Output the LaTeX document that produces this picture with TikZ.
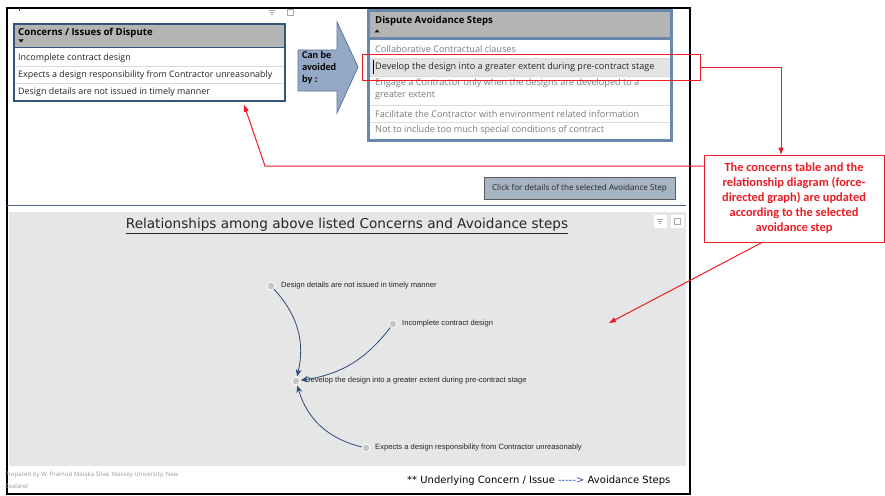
\documentclass[tikz,border=0pt]{standalone}
\usepackage{fontspec}
\setmainfont{Open Sans}
\newfontfamily\graphfont{Liberation Sans}
\newfontfamily\calfont{Carlito}
\newfontfamily\handfont{DejaVu Sans}
\usetikzlibrary{arrows.meta}

\definecolor{tblborder}{HTML}{34547E}
\definecolor{tblborderlight}{HTML}{6A88AE}
\definecolor{headfill}{HTML}{B4B4B4}
\definecolor{rowline}{HTML}{DADADA}
\definecolor{rowdark}{HTML}{252525}
\definecolor{rowgrey}{HTML}{7A7A7A}
\definecolor{selfill}{HTML}{E3E3E3}
\definecolor{arrowfill}{HTML}{93A9C6}
\definecolor{arrowedge}{HTML}{5C7699}
\definecolor{notered}{HTML}{EC1C24}
\definecolor{btnfill}{HTML}{A7B4C3}
\definecolor{btnedge}{HTML}{5A5A5A}
\definecolor{sepblue}{HTML}{4B6488}
\definecolor{panelgrey}{HTML}{E6E6E6}
\definecolor{edgeblue}{HTML}{2A4A78}
\definecolor{dotgrey}{HTML}{C6C6C6}
\definecolor{icongrey}{HTML}{A8A8A8}
\definecolor{footgrey}{HTML}{9A9A9A}
\definecolor{legendblue}{HTML}{2B4FA8}

\begin{document}
\begin{tikzpicture}[x=1pt,y=-1pt,
  rowtxt/.style={anchor=west, inner sep=0pt, font=\fontsize{8.9}{11}\selectfont, text=rowdark},
  steptxt/.style={anchor=west, inner sep=0pt, font=\fontsize{9.1}{11}\selectfont, text=rowdark},
  greytxt/.style={steptxt, text=rowgrey},
  headtxt/.style={anchor=west, inner sep=0pt, font=\bfseries\fontsize{9.6}{11}\selectfont, text=black},
  redline/.style={draw=notered, line width=1pt},
  redarrow/.style={redline, -{Triangle[length=7pt,width=5pt]}},
  gnode/.style={circle, fill=dotgrey, draw=white, line width=0.8pt, minimum size=8pt, inner sep=0pt},
  glabel/.style={anchor=west, inner sep=0pt, font=\graphfont\fontsize{7.6}{9}\selectfont, text=rowdark},
  gedge/.style={draw=edgeblue, line width=0.8pt, -{Stealth[length=7pt,width=6pt]}, shorten >=0.5pt},
  iconbox/.style={fill=white, minimum width=13pt, minimum height=13pt, inner sep=0pt}
]
\useasboundingbox (0,0) rectangle (885,495);
\fill[white] (0,0) rectangle (885,495);

% report frame
\draw[line width=1.6pt] (7,8) rectangle (690,494);

% visual header icons (filter / focus mode)
\draw[icongrey, line width=0.6pt] (269,10) -- (275,10) (270,12) -- (274,12) (271,14) -- (273,14);
\draw[icongrey, line width=0.5pt] (287,9) rectangle (293,15);
\draw[tblborder, line width=1pt] (19,8.5) -- (19,11);

% ---- concerns table ----
\fill[headfill] (14,24) rectangle (285,47);
\draw[rowline] (14,66.5) -- (285,66.5) (14,83.5) -- (285,83.5);
\node[draw=tblborder, line width=1.4pt, minimum width=271pt, minimum height=77pt, inner sep=0pt] (ctab) at (149.5,62.5) {};
\draw[tblborder, line width=1.2pt] (14,47.5) -- (285,47.5);
\node[headtxt] (chead) at (18,33) {Concerns / Issues of Dispute};
\fill (18.5,39.5) -- (23.5,39.5) -- (21,42.5) -- cycle;
\node[rowtxt] (c1) at (18,58) {Incomplete contract design};
\node[rowtxt] (c2) at (18,75) {Expects a design responsibility from Contractor unreasonably};
\node[rowtxt] (c3) at (18,92) {Design details are not issued in timely manner};

% ---- block arrow ----
\draw[fill=arrowfill, draw=arrowedge, line width=0.8pt]
  (298,50) -- (337,50) -- (337,22) -- (358,67) -- (337,113) -- (337,91) -- (298,91) -- cycle;
\node[anchor=north west, inner sep=0pt, align=left, font=\calfont\bfseries\fontsize{10.3}{12}\selectfont] (avoided) at (302,51) {Can be\\avoided\\by :};

% ---- avoidance steps table ----
\fill[headfill] (369,11) rectangle (671,37);
\fill[selfill] (370,58) rectangle (670,76);
\draw[rowline] (370,58) -- (670,58) (370,76) -- (670,76) (370,105) -- (670,105) (370,122) -- (670,122);
\node[draw=tblborderlight, line width=2.6pt, minimum width=303pt, minimum height=130pt, inner sep=0pt] (stab) at (520,75.5) {};
\draw[tblborderlight, line width=2.4pt] (369,38.5) -- (671,38.5);
\node[headtxt] (shead) at (375,21.5) {Dispute Avoidance Steps};
\fill (374.5,32.5) -- (379.5,32.5) -- (377,29.5) -- cycle;
\draw[black, line width=1pt] (373,60) -- (373,74);
\node[greytxt] (s1) at (375,49) {Collaborative Contractual clauses};
\node[steptxt] (s2) at (375,67) {Develop the design into a greater extent during pre-contract stage};
\node[greytxt, anchor=north west, align=left, font=\fontsize{9.1}{12.5}\selectfont] (s3) at (375,78) {Engage a Contractor only when the designs are developed to a\\greater extent};
\node[greytxt] (s4) at (375,114) {Facilitate the Contractor with environment related information};
\node[greytxt] (s5) at (375,130) {Not to include too much special conditions of contract};

% ---- details button ----
\node[fill=btnfill, draw=btnedge, line width=0.8pt, minimum width=191pt, minimum height=22pt, inner sep=0pt,
      font=\fontsize{8.1}{9}\selectfont, text=rowdark] (btn) at (579.5,188) {Click for details of the selected Avoidance Step};

% ---- separator and graph panel ----
\draw[sepblue, line width=1.8pt] (7,205.5) -- (686,205.5);
\fill[panelgrey] (9,212) rectangle (686,466);
\node[iconbox] (ib1) at (660,221) {};
\node[iconbox] (ib2) at (677,221) {};
\draw[icongrey, line width=0.5pt] (657,219) -- (663,219) (658,221) -- (662,221) (659,223) -- (661,223);
\draw[icongrey, line width=0.5pt] (674,218) rectangle (680,224);
\node[inner sep=0pt, font=\handfont\fontsize{13.6}{15}\selectfont, text=rowdark] (gtitle) at (347,226)
  {\underline{Relationships among above listed Concerns and Avoidance steps}};

% force-directed graph
\node[gnode] (ga) at (271,286) {};
\node[gnode] (gb) at (393,324) {};
\node[gnode] (gc) at (296,381) {};
\node[gnode] (gd) at (366,448) {};
\node[glabel] (la) at (281,286) {Design details are not issued in timely manner};
\node[glabel] (lb) at (402,324) {Incomplete contract design};
\node[glabel] (lc) at (305,381) {Develop the design into a greater extent during pre-contract stage};
\node[glabel] (ld) at (375,448) {Expects a design responsibility from Contractor unreasonably};
\draw[gedge] (ga) to[bend left=28] (gc);
\draw[gedge] (gb) to[bend left=22] (gc);
\draw[gedge] (gd) to[bend left=30] (gc);

% ---- footer ----
\node[anchor=north west, inner sep=0pt, align=left, font=\fontsize{6.1}{12}\selectfont, text=footgrey] (credit) at (5,472)
  {Prepared by W. Pramod Malaka Silva, Massey University, New\\Zealand};
\node[anchor=west, inner sep=0pt, font=\handfont\fontsize{10}{12}\selectfont] (legend) at (407,481)
  {** Underlying Concern / Issue \textcolor{legendblue}{-{}-{}-{}-{}->} Avoidance Steps};

% ---- annotation ----
\node[draw=notered, line width=1pt, minimum width=338pt, minimum height=25pt, inner sep=0pt] (sel) at (531,67.5) {};
\node[draw=notered, line width=1pt, fill=white, minimum width=180pt, minimum height=87pt, inner sep=0pt,
      align=center, text=notered, font=\calfont\bfseries\fontsize{12.4}{15}\selectfont] (note) at (794,198.5)
  {The concerns table and the\\relationship diagram (force-\\directed graph) are updated\\according to the selected\\avoidance step};
\coordinate (bendpt) at (265,166);
\coordinate (focus) at (609,323);
\draw[redarrow] (sel.east) -| ([xshift=-13pt]note.north);
\draw[redarrow] ([yshift=32.5pt]note.west) -- (bendpt) -- ([xshift=94.5pt,yshift=-3pt]ctab.south);
\draw[redarrow] ([xshift=-32pt]note.south) -- (focus);
\end{tikzpicture}
\end{document}
